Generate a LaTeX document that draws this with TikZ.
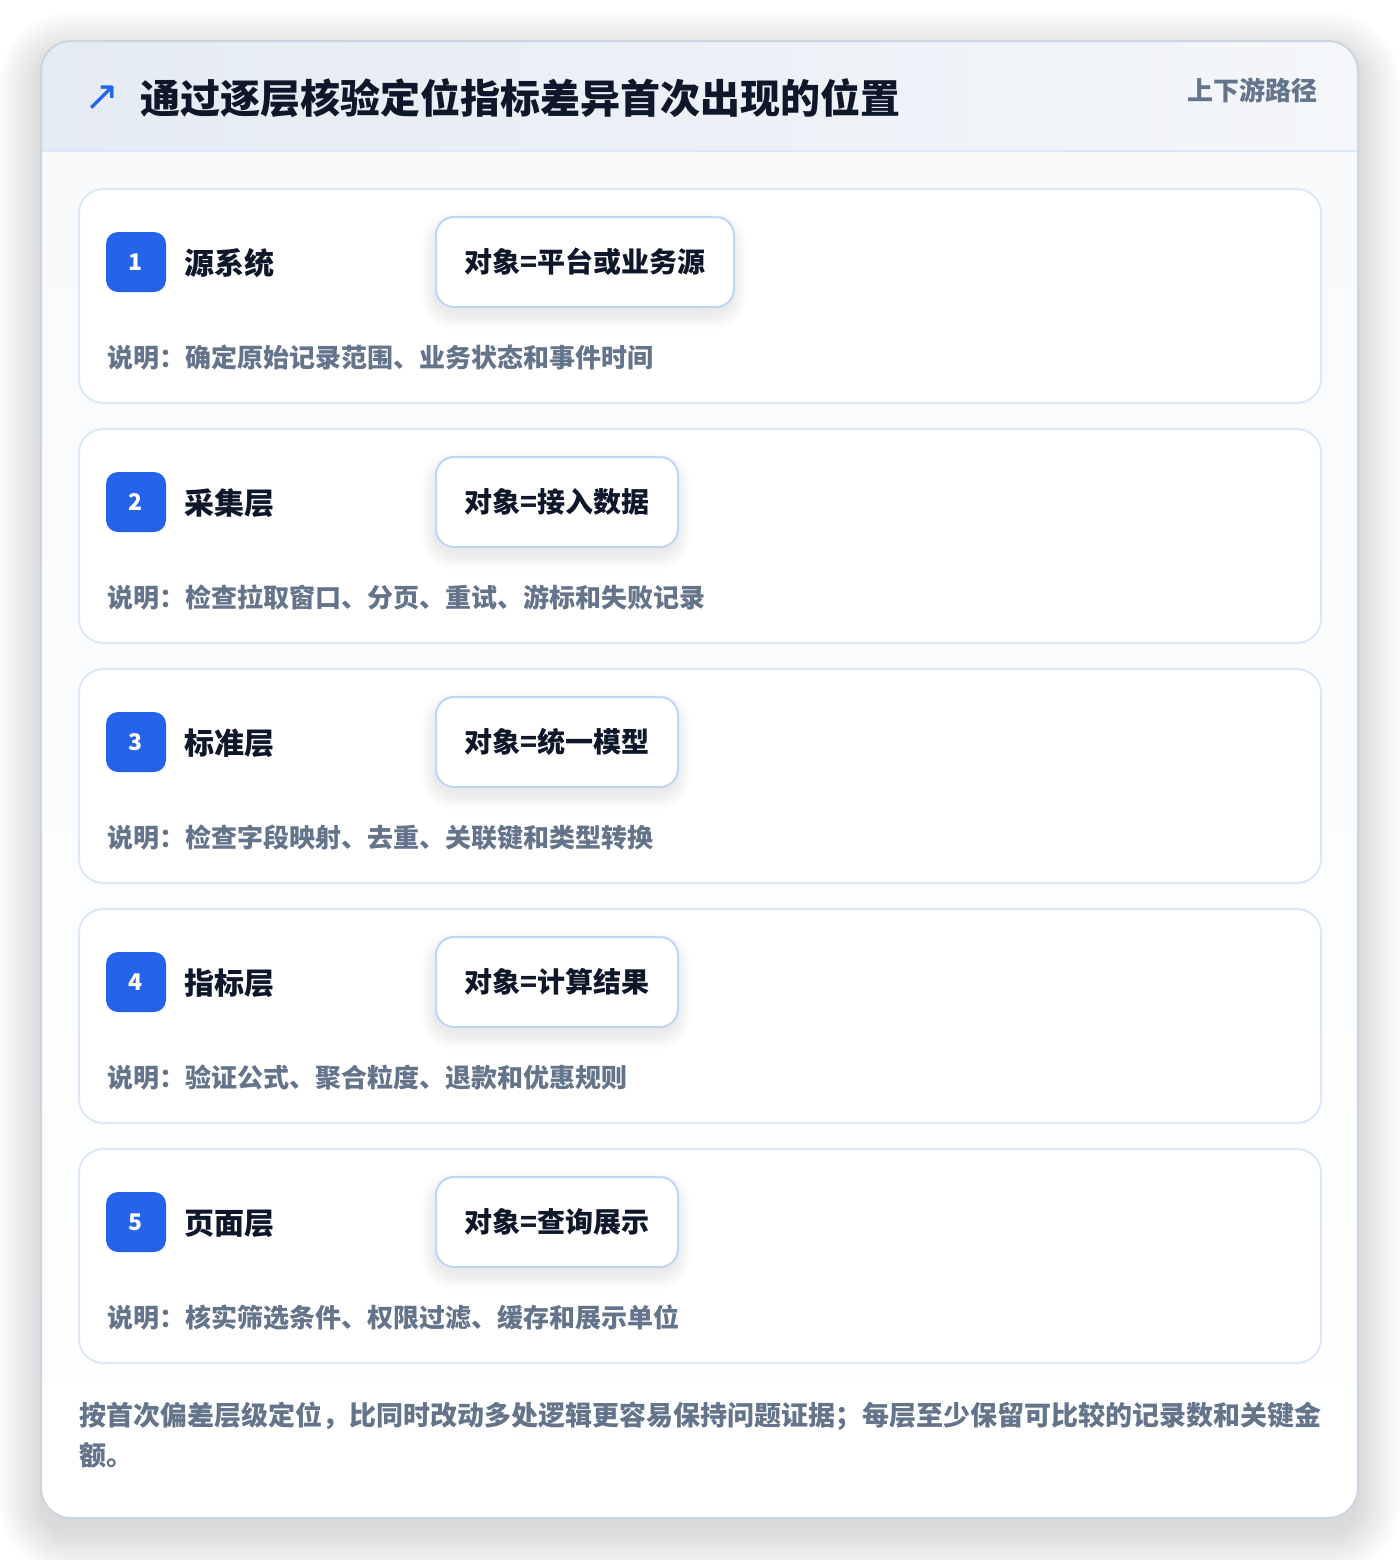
\documentclass[tikz,border=0pt]{standalone}
\usepackage{fontspec}
\setmainfont{Noto Sans CJK SC}
\newfontfamily\symfont{DejaVu Sans}
\usetikzlibrary{shadings}
\definecolor{titlec}{HTML}{0F172A}
\definecolor{mutedc}{HTML}{64748B}
\definecolor{bluec}{HTML}{2563EB}
\definecolor{cardline}{HTML}{DCE8F8}
\definecolor{objline}{HTML}{BFD5F5}
\definecolor{outerline}{HTML}{CBD5E1}
\definecolor{headl}{HTML}{E5EBF3}
\definecolor{headr}{HTML}{F4F6FA}
\definecolor{bodyt}{HTML}{F8FAFC}
\definecolor{shadowc}{HTML}{1E293B}
% #1 x1, #2 y1, #3 x2, #4 y2, #5 radius px, #6 steps, #7 step px, #8 dy px, #9 opacity
\newcommand\mysoftshadow[9]{%
  \foreach \k in {1,...,#6}{%
    \pgfmathsetmacro{\ee}{\k*#7}%
    \pgfmathsetmacro{\rr}{(#5+\ee)*0.5}%
    \fill[shadowc,opacity=#9,rounded corners=\rr pt] (#1-\ee,#2-\ee+#8) rectangle (#3+\ee,#4+\ee+#8);
  }}
\tikzset{
  px/.style={x=0.5pt,y=-0.5pt},
  stepcard/.style={draw=cardline,line width=1pt,fill=white,rounded corners=12pt},
  badge/.style={fill=bluec,rounded corners=6pt,minimum width=30pt,minimum height=30pt,inner sep=0pt,text=white,font=\bfseries\fontsize{11.5}{13}\selectfont,text height=8pt,text depth=0pt},
  steplabel/.style={inner sep=0pt,anchor=base west,text=titlec,font=\bfseries\fontsize{15}{18}\selectfont},
  objbox/.style={draw=objline,line width=1pt,fill=white,rounded corners=9pt,minimum height=45pt,inner sep=0pt,anchor=west,text=titlec,font=\bfseries\fontsize{14}{17}\selectfont,text height=12.3pt,text depth=1.7pt},
  desc/.style={inner sep=0pt,anchor=base west,text=mutedc,font=\bfseries\fontsize{13}{16}\selectfont},
  foot/.style={inner sep=0pt,anchor=base west,text=mutedc,font=\bfseries\fontsize{13.5}{20}\selectfont},
}
\begin{document}
\begin{tikzpicture}[px]
\useasboundingbox (0,0) rectangle (1400,1560);
\fill[white] (0,0) rectangle (1400,1560);
% outer card shadow
\mysoftshadow{41}{41}{1358}{1518}{30}{18}{2.4}{14}{0.0065}
\begin{scope}
\clip[rounded corners=15pt] (41,41) rectangle (1358,1518);
\shade[top color=bodyt,bottom color=white] (41,151) rectangle (1358,1518);
\shade[left color=headl,right color=headr] (41,41) rectangle (1358,151);
\draw[cardline,line width=1pt] (41,151) -- (1358,151);
\end{scope}
\draw[outerline,line width=1pt,rounded corners=15pt] (41,41) rectangle (1358,1518);
% header
\node[inner sep=0pt,text=bluec,font=\symfont\fontsize{21}{24}\selectfont] (icon) at (102,98) {↗};
\node[inner sep=0pt,anchor=base west,text=titlec,font=\bfseries\fontsize{20}{24}\selectfont] (title) at (140,113) {通过逐层核验定位指标差异首次出现的位置};
\node[inner sep=0pt,anchor=base east,text=mutedc,font=\bfseries\fontsize{13}{16}\selectfont] (tag) at (1318,100) {上下游路径};
% steps
\foreach \i/\name/\obj/\w/\d in {
 0/源系统/对象=平台或业务源/298/说明：确定原始记录范围、业务状态和事件时间,
 1/采集层/对象=接入数据/242/说明：检查拉取窗口、分页、重试、游标和失败记录,
 2/标准层/对象=统一模型/242/说明：检查字段映射、去重、关联键和类型转换,
 3/指标层/对象=计算结果/242/说明：验证公式、聚合粒度、退款和优惠规则,
 4/页面层/对象=查询展示/242/说明：核实筛选条件、权限过滤、缓存和展示单位}{
  \pgfmathtruncatemacro{\top}{189+240*\i}
  \pgfmathtruncatemacro{\bot}{\top+214}
  \pgfmathtruncatemacro{\num}{\i+1}
  \pgfmathtruncatemacro{\ox}{435+\w}
  \path[stepcard] (79,\top) rectangle (1321,\bot);
  \node[badge] (b\num) at (136,\top+73) {\num};
  \node[steplabel] (l\num) at (184,\top+85) {\name};
  \mysoftshadow{437}{\top+30}{\ox-2}{\top+116}{18}{10}{1.6}{8}{0.009}
  \node[objbox,minimum width=\w*0.5pt] (o\num) at (435,\top+73) {\obj};
  \node[desc] (d\num) at (107,\top+178) {\d};
}
% footer
\node[foot] (f1) at (79,1425) {按首次偏差层级定位，比同时改动多处逻辑更容易保持问题证据；每层至少保留可比较的记录数和关键金};
\node[foot] (f2) at (79,1465) {额。};
\end{tikzpicture}
\end{document}
